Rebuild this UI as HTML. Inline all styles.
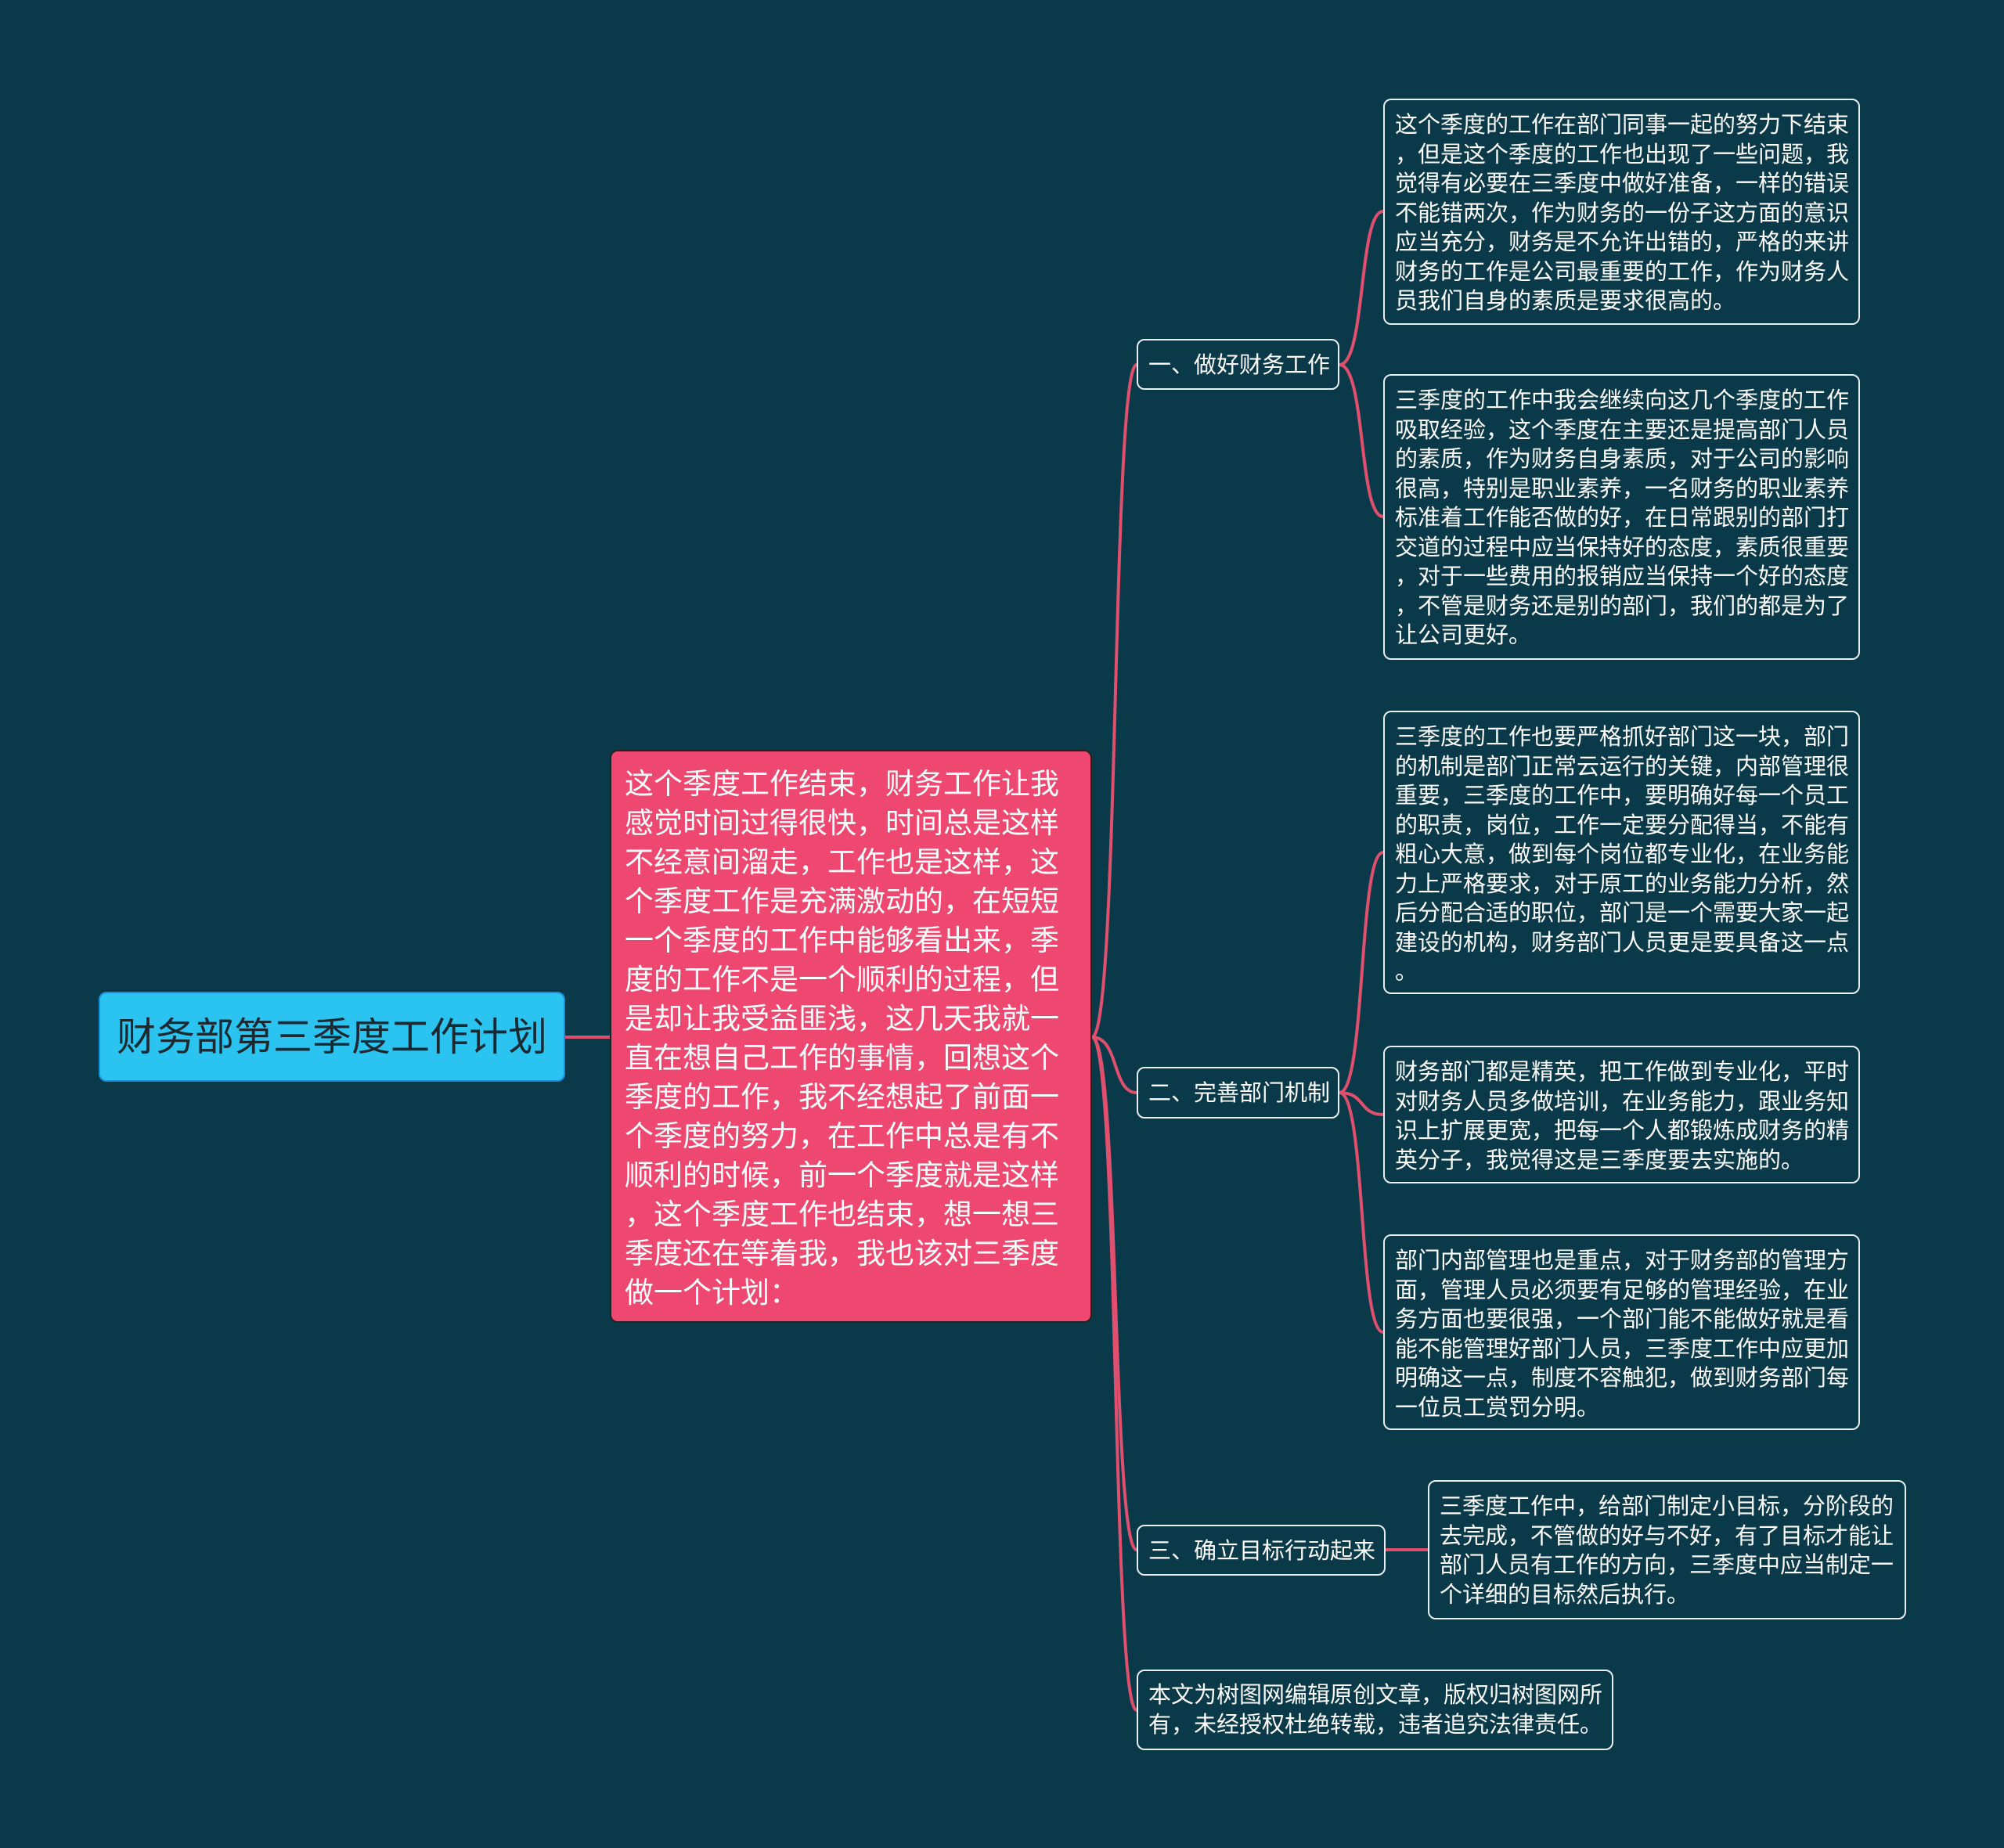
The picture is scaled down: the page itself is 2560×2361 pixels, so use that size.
<!DOCTYPE html>
<html><head><meta charset="utf-8"><style>
body{margin:0;width:2560px;height:2361px;background:#0a3a4a;position:relative;overflow:hidden;font-family:"Liberation Sans","Noto Sans CJK SC",sans-serif;}
.b{position:absolute;box-sizing:border-box;white-space:nowrap;color:#fff;}
.leaf{border:2px solid #e8eef0;border-radius:10px;font-size:29px;line-height:37.5px;padding:14px 13px 11px;}
.br{border:2px solid #e8eef0;border-radius:10px;font-size:29px;line-height:64px;padding:0 13px;}
svg{position:absolute;left:0;top:0}
</style></head><body>
<svg width="2560" height="2361" fill="none" stroke="#e0506e" stroke-width="4">
<path d="M722,1325 L779,1325"/>
<path d="M1395,1325 C1430,1325 1420,466 1452,466"/>
<path d="M1395,1325 C1430,1325 1420,1396 1452,1396"/>
<path d="M1395,1325 C1430,1325 1420,1980 1452,1980"/>
<path d="M1395,1325 C1430,1325 1420,2185 1452,2185"/>
<path d="M1711,466 C1745,466 1735,270 1767,270"/>
<path d="M1711,466 C1745,466 1735,660 1767,660"/>
<path d="M1711,1396 C1745,1396 1735,1089 1767,1089"/>
<path d="M1711,1396 C1745,1396 1735,1424 1767,1424"/>
<path d="M1711,1396 C1745,1396 1735,1702 1767,1702"/>
<path d="M1770,1980 L1824,1980"/>
</svg>
<div class="b" style="left:126px;top:1267px;width:596px;height:115px;background:#2bc4f0;border:2px solid #1a8fe0;border-radius:10px;color:#1a2a33;font-size:50px;line-height:113px;text-align:center;">财务部第三季度工作计划</div>
<div class="b" style="left:779px;top:958px;width:616px;height:732px;background:#ef4870;border:2px solid #222;border-radius:10px;font-size:37px;line-height:50px;padding:17px 17px;">这个季度工作结束，财务工作让我<br>感觉时间过得很快，时间总是这样<br>不经意间溜走，工作也是这样，这<br>个季度工作是充满激动的，在短短<br>一个季度的工作中能够看出来，季<br>度的工作不是一个顺利的过程，但<br>是却让我受益匪浅，这几天我就一<br>直在想自己工作的事情，回想这个<br>季度的工作，我不经想起了前面一<br>个季度的努力，在工作中总是有不<br>顺利的时候，前一个季度就是这样<br>，这个季度工作也结束，想一想三<br>季度还在等着我，我也该对三季度<br>做一个计划：</div>
<div class="b br" style="left:1452px;top:433px;width:259px;height:65px;">一、做好财务工作</div>
<div class="b br" style="left:1452px;top:1363px;width:259px;height:66px;">二、完善部门机制</div>
<div class="b br" style="left:1452px;top:1948px;width:318px;height:65px;">三、确立目标行动起来</div>
<div class="b leaf" style="left:1452px;top:2133px;width:609px;height:103px;padding:13px 13px;">本文为树图网编辑原创文章，版权归树图网所<br>有，未经授权杜绝转载，违者追究法律责任。</div>
<div class="b leaf" style="left:1767px;top:126px;width:609px;height:289px;">这个季度的工作在部门同事一起的努力下结束<br>，但是这个季度的工作也出现了一些问题，我<br>觉得有必要在三季度中做好准备，一样的错误<br>不能错两次，作为财务的一份子这方面的意识<br>应当充分，财务是不允许出错的，严格的来讲<br>财务的工作是公司最重要的工作，作为财务人<br>员我们自身的素质是要求很高的。</div>
<div class="b leaf" style="left:1767px;top:478px;width:609px;height:365px;">三季度的工作中我会继续向这几个季度的工作<br>吸取经验，这个季度在主要还是提高部门人员<br>的素质，作为财务自身素质，对于公司的影响<br>很高，特别是职业素养，一名财务的职业素养<br>标准着工作能否做的好，在日常跟别的部门打<br>交道的过程中应当保持好的态度，素质很重要<br>，对于一些费用的报销应当保持一个好的态度<br>，不管是财务还是别的部门，我们的都是为了<br>让公司更好。</div>
<div class="b leaf" style="left:1767px;top:908px;width:609px;height:362px;">三季度的工作也要严格抓好部门这一块，部门<br>的机制是部门正常云运行的关键，内部管理很<br>重要，三季度的工作中，要明确好每一个员工<br>的职责，岗位，工作一定要分配得当，不能有<br>粗心大意，做到每个岗位都专业化，在业务能<br>力上严格要求，对于原工的业务能力分析，然<br>后分配合适的职位，部门是一个需要大家一起<br>建设的机构，财务部门人员更是要具备这一点<br>。</div>
<div class="b leaf" style="left:1767px;top:1336px;width:609px;height:176px;">财务部门都是精英，把工作做到专业化，平时<br>对财务人员多做培训，在业务能力，跟业务知<br>识上扩展更宽，把每一个人都锻炼成财务的精<br>英分子，我觉得这是三季度要去实施的。</div>
<div class="b leaf" style="left:1767px;top:1577px;width:609px;height:250px;">部门内部管理也是重点，对于财务部的管理方<br>面，管理人员必须要有足够的管理经验，在业<br>务方面也要很强，一个部门能不能做好就是看<br>能不能管理好部门人员，三季度工作中应更加<br>明确这一点，制度不容触犯，做到财务部门每<br>一位员工赏罚分明。</div>
<div class="b leaf" style="left:1824px;top:1891px;width:611px;height:178px;">三季度工作中，给部门制定小目标，分阶段的<br>去完成，不管做的好与不好，有了目标才能让<br>部门人员有工作的方向，三季度中应当制定一<br>个详细的目标然后执行。</div>
</body></html>
